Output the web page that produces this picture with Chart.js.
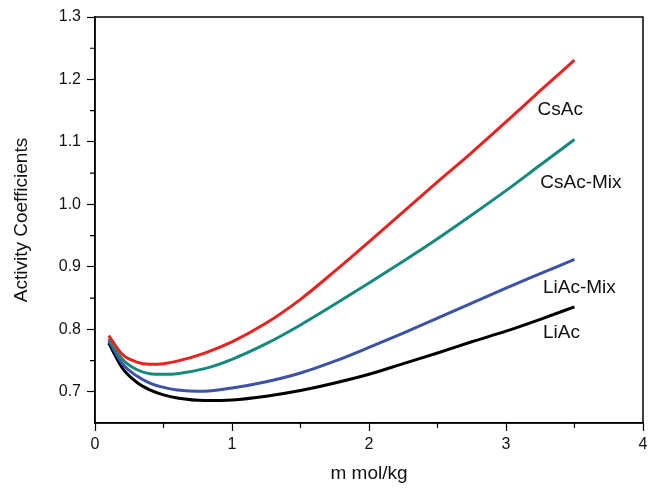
<!DOCTYPE html>
<html>
<head>
<meta charset="utf-8">
<script src="https://cdn.jsdelivr.net/npm/chart.js@4/dist/chart.umd.min.js"></script>
<style>
  html, body { margin: 0; padding: 0; background: #fff; }
  #wrap { width: 656px; height: 488px; }
</style>
</head>
<body>
<div id="wrap"><canvas id="actChart" width="656" height="488"></canvas></div>
<script>
// molality (mol/kg)
const molality = [0.1, 0.2, 0.3, 0.4, 0.5, 0.6, 0.8, 1.0, 1.25, 1.5, 1.75, 2.0, 2.25, 2.5, 2.75, 3.0, 3.25, 3.5];

const csAc    = [0.790, 0.760, 0.748, 0.744, 0.745, 0.749, 0.762, 0.780, 0.810, 0.848, 0.893, 0.940, 0.988, 1.036, 1.083, 1.132, 1.182, 1.231];
const csAcMix = [0.785, 0.752, 0.736, 0.729, 0.728, 0.729, 0.737, 0.752, 0.777, 0.807, 0.840, 0.874, 0.909, 0.945, 0.983, 1.022, 1.063, 1.104];
const liAcMix = [0.782, 0.745, 0.726, 0.714, 0.707, 0.703, 0.701, 0.706, 0.716, 0.730, 0.749, 0.771, 0.794, 0.818, 0.842, 0.866, 0.889, 0.912];
const liAc    = [0.778, 0.738, 0.716, 0.703, 0.695, 0.690, 0.686, 0.687, 0.693, 0.702, 0.714, 0.728, 0.745, 0.762, 0.780, 0.797, 0.816, 0.836];

const seriesNames = ['CsAc', 'CsAc-Mix', 'LiAc-Mix', 'LiAc'];
// where each curve name sits (in data units)
const labelX = [3.23, 3.25, 3.27, 3.27];
const labelY = [1.151, 1.034, 0.866, 0.795];

const FONT = 'Liberation Sans, Arial, sans-serif';

function pts(ys) {
    return molality.map((x, i) => ({ x: x, y: ys[i] }));
}

// box around the plot, minor ticks and the curve names
const decorPlugin = {
    id: 'decor',
    afterDraw(chart) {
        const ctx = chart.ctx;
        const a = chart.chartArea;
        const xs = chart.scales.x;
        const ys = chart.scales.y;
        ctx.save();
        ctx.strokeStyle = '#000';
        ctx.lineWidth = 1.5;
        ctx.strokeRect(a.left, a.top, a.right - a.left, a.bottom - a.top);

        // minor ticks
        ctx.lineWidth = 1.2;
        ctx.beginPath();
        for (let v = 0.5; v < 4; v += 1) {
            const px = xs.getPixelForValue(v);
            ctx.moveTo(px, a.bottom);
            ctx.lineTo(px, a.bottom + 5);
        }
        for (let v = 0.75; v < 1.3; v += 0.1) {
            const py = ys.getPixelForValue(v);
            ctx.moveTo(a.left, py);
            ctx.lineTo(a.left - 5, py);
        }
        ctx.stroke();

        // curve names
        ctx.fillStyle = '#111';
        ctx.font = '19px ' + FONT;
        ctx.textAlign = 'left';
        ctx.textBaseline = 'middle';
        seriesNames.forEach((name, i) => {
            ctx.fillText(name, xs.getPixelForValue(labelX[i]), ys.getPixelForValue(labelY[i]));
        });
        ctx.restore();
    }
};

const lineStyle = {
    borderWidth: 3,
    pointRadius: 0,
    fill: false,
    cubicInterpolationMode: 'monotone'
};

const ctx = document.getElementById('actChart').getContext('2d');
new Chart(ctx, {
    type: 'line',
    data: {
        datasets: [
            Object.assign({ label: 'CsAc', data: pts(csAc), borderColor: '#e8231f' }, lineStyle),
            Object.assign({ label: 'CsAc-Mix', data: pts(csAcMix), borderColor: '#14897c' }, lineStyle),
            Object.assign({ label: 'LiAc-Mix', data: pts(liAcMix), borderColor: '#3c52a8' }, lineStyle),
            Object.assign({ label: 'LiAc', data: pts(liAc), borderColor: '#000000' }, lineStyle)
        ]
    },
    options: {
        responsive: false,
        animation: false,
        layout: { padding: { left: 0, top: 17, right: 13, bottom: 0 } },
        plugins: {
            legend: { display: false },
            tooltip: { enabled: false }
        },
        scales: {
            x: {
                type: 'linear',
                min: 0,
                max: 4,
                afterFit(scale) { scale.height = 65; },
                border: { display: true, color: '#000', width: 1.5 },
                grid: {
                    drawOnChartArea: false,
                    tickLength: 8,
                    tickWidth: 1.2,
                    tickColor: '#000'
                },
                ticks: {
                    stepSize: 1,
                    padding: 4,
                    color: '#111',
                    font: { family: FONT, size: 16 }
                },
                title: {
                    display: true,
                    text: 'm mol/kg',
                    color: '#111',
                    font: { family: FONT, size: 19 },
                    padding: { top: 0, bottom: 3 }
                }
            },
            y: {
                type: 'linear',
                min: 0.65,
                max: 1.3,
                afterFit(scale) { scale.width = 95; },
                afterBuildTicks(scale) {
                    scale.ticks = [0.7, 0.8, 0.9, 1.0, 1.1, 1.2, 1.3].map(v => ({ value: v }));
                },
                border: { display: true, color: '#000', width: 1.5 },
                grid: {
                    drawOnChartArea: false,
                    tickLength: 8,
                    tickWidth: 1.2,
                    tickColor: '#000'
                },
                ticks: {
                    padding: 6,
                    color: '#111',
                    font: { family: FONT, size: 16 },
                    callback: v => v.toFixed(1)
                },
                title: {
                    display: true,
                    text: 'Activity Coefficients',
                    color: '#111',
                    font: { family: FONT, size: 19 },
                    padding: { top: 10, bottom: 0 }
                }
            }
        }
    },
    plugins: [decorPlugin]
});
</script>
</body>
</html>
